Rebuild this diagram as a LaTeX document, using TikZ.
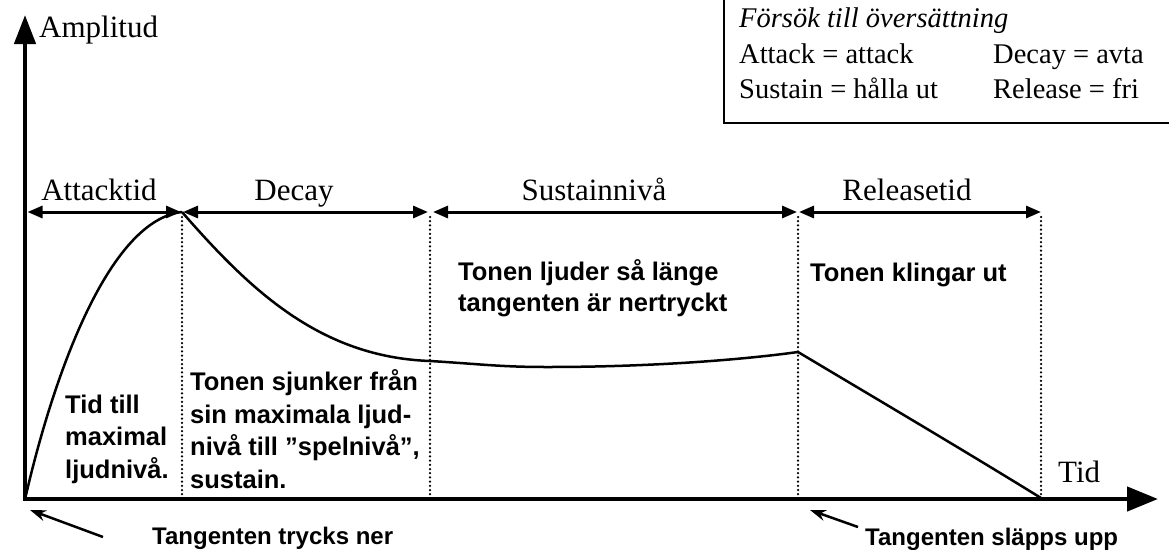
\documentclass[tikz,border=0pt]{standalone}
\usepackage{fontspec}
\setmainfont{Liberation Serif}
\setsansfont{Liberation Sans}
\usetikzlibrary{arrows.meta}
\begin{document}
\begin{tikzpicture}[x=1pt,y=-1pt,
  axis/.style={line width=4.5pt, line join=miter, {Triangle[length=29pt,width=21pt]}-{Triangle[length=31pt,width=24pt]}},
  dim/.style={line width=3pt, {Triangle[length=15pt,width=12pt]}-{Triangle[length=15pt,width=12pt]}},
  guide/.style={line width=2.5pt, line cap=round, dash pattern=on 0pt off 4.2pt},
  env/.style={line width=2.5pt},
  ptr/.style={line width=2.5pt, -{Stealth[length=16pt,width=11pt]}},
  lbl/.style={font=\fontsize{31}{36}\selectfont, inner sep=0pt},
  boxtxt/.style={font=\fontsize{28.5}{34}\selectfont, inner sep=0pt, anchor=base west},
  note/.style={font=\sffamily\bfseries\fontsize{25.5}{32.5}\selectfont, inner sep=0pt, align=left, anchor=base west},
  foot/.style={font=\sffamily\bfseries\fontsize{24}{30}\selectfont, inner sep=0pt, anchor=base west}
]
\useasboundingbox (0,0) rectangle (1169,549);
\clip (0,0) rectangle (1169,549);
\fill[white] (0,0) rectangle (1169,549);

% coordinates
\coordinate (ytip) at (25,15);
\coordinate (o) at (25,499);
\coordinate (xtip) at (1158,499);
\coordinate (start) at (26,495);
\coordinate (peak) at (182,212);
\coordinate (dstart) at (430,361);
\coordinate (smin) at (547,367);
\coordinate (rel) at (798,352);
\coordinate (end) at (1041,498);

% translation box
\draw[line width=2pt] (1200,123) -- (724,123) -- (724,-10);
\node[boxtxt] (t1) at (739,27) {\itshape Försök till översättning};
\node[boxtxt] (t2) at (739,63) {Attack = attack};
\node[boxtxt] (t3) at (739,98) {Sustain = hålla ut};
\node[boxtxt] (t4) at (993,63) {Decay = avta};
\node[boxtxt] (t5) at (993,98) {Release = fri};

% guides
\foreach \x/\n in {182/g1,430/g2,798/g3,1041/g4}{
  \coordinate (\n t) at (\x,217);
  \coordinate (\n b) at (\x,497);
  \draw[guide] (\n t) -- (\n b);
}

% axes
\draw[axis] (ytip) -- (o) -- (xtip);
\node[lbl, anchor=base west] (amp) at (39,37) {Amplitud};
\node[lbl, anchor=base west] (tid) at (1058,482) {Tid};

% dimension arrows
\coordinate (d0) at (27.5,212);
\coordinate (d1) at (181,212);
\coordinate (d2) at (183,212);
\coordinate (d3) at (428,212);
\coordinate (d4) at (433,212);
\coordinate (d5) at (797,212);
\coordinate (d6) at (799,212);
\coordinate (d7) at (1041,212);
\draw[dim] (d0) -- (d1);
\draw[dim] (d2) -- (d3);
\draw[dim] (d4) -- (d5);
\draw[dim] (d6) -- (d7);
\node[lbl, anchor=base] (la) at (99,200) {Attacktid};
\node[lbl, anchor=base] (ld) at (294,200) {Decay};
\node[lbl, anchor=base] (ls) at (594,200) {Sustainnivå};
\node[lbl, anchor=base] (lr) at (907,200) {Releasetid};

% envelope
\draw[env] (start) .. controls (55,370) and (110,220) .. (peak);
\draw[env] (peak) .. controls (250,290) and (320,357) .. (dstart)
  .. controls (480,364) and (500,367) .. (smin)
  .. controls (650,367) and (740,360) .. (rel);
\draw[env] (rel) .. controls (870,395) and (960,448) .. (end);

% notes (base anchor = last line)
\node[note] (n1) at (65,478) {Tid till\\maximal\\ljudnivå.};
\node[note] (n2) at (190,488) {Tonen sjunker från\\sin maximala ljud-\\nivå till ”spelnivå”,\\sustain.};
\node[note, font=\sffamily\bfseries\fontsize{25.5}{31}\selectfont] (n3) at (458,311) {Tonen ljuder så länge\\tangenten är nertryckt};
\node[note] (n4) at (810,281) {Tonen klingar ut};

% pointers
\node[foot] (f1) at (152,544) {Tangenten trycks ner};
\node[foot] (f2) at (865,545) {Tangenten släpps upp};
\coordinate (p1s) at (103,537);
\coordinate (p1e) at (30,510);
\coordinate (p2s) at (858,527);
\coordinate (p2e) at (810,510);
\draw[ptr] (p1s) -- (p1e);
\draw[ptr] (p2s) -- (p2e);
\end{tikzpicture}
\end{document}
